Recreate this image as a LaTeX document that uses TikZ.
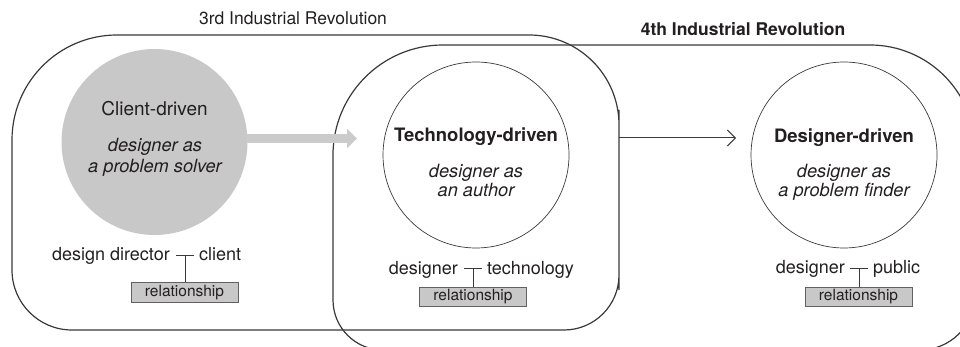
\documentclass[tikz,border=0pt]{standalone}
\usepackage{fontspec}
\setmainfont{TeX Gyre Heros}
\usetikzlibrary{arrows.meta,calc}
\definecolor{ink}{HTML}{231F20}
\definecolor{lineink}{HTML}{3C3839}
\definecolor{fillgray}{HTML}{C8C8C8}
\definecolor{arrowgray}{HTML}{CBCBCB}
\begin{document}
\begin{tikzpicture}[x=1pt,y=-1pt,
  era/.style={draw=lineink, line width=1.2pt},
  stage/.style={circle, draw=lineink, line width=0.7pt, minimum size=186pt, inner sep=0pt},
  title/.style={inner sep=0pt, text=ink, anchor=base, font=\fontsize{19}{21}\selectfont},
  btitle/.style={inner sep=0pt, text=ink, anchor=base, font=\fontsize{18.5}{21}\selectfont\bfseries},
  role/.style={inner sep=0pt, text=ink, anchor=base, font=\fontsize{18.2}{21}\selectfont\itshape},
  party/.style={inner sep=0pt, text=ink, font=\fontsize{18}{21}\selectfont},
  relbox/.style={draw=lineink!80, line width=0.8pt, fill=fillgray, minimum width=107pt, minimum height=19.5pt, inner sep=0pt, text=ink, font=\fontsize{15.5}{17}\selectfont},
  tee/.style={draw=lineink, line width=0.9pt}
]
\useasboundingbox (0,0) rectangle (960,347);
\clip (0,0) rectangle (960,347);

% era frames
\draw[era] (12,200) [rounded corners=105pt] -- (12,35) -- (300,35)
  [rounded corners=90pt] -- (619,35) -- (619,200)
  [rounded corners=55pt] -- (619,330) -- (300,330)
  [rounded corners=60pt] -- (12,330) -- cycle;
\draw[era] (333,200) [rounded corners=110pt] -- (333,45) -- (600,45)
  [rounded corners=105pt] -- (975,45) -- (975,200)
  [rounded corners=55pt] -- (975,350) -- (600,350)
  [rounded corners=50pt] -- (333,350) -- cycle;

\node[inner sep=0pt, text=ink, anchor=base, font=\fontsize{17.5}{20}\selectfont] (h3) at (293,25) {3rd Industrial Revolution};
\node[inner sep=0pt, text=ink, anchor=base, font=\fontsize{17.5}{20}\selectfont\bfseries] (h4) at (743,36) {4th Industrial Revolution};

% stage circles
\node[stage, draw=none, fill=fillgray] (cd) at (154.5,142) {};
\node[stage] (td) at (476,155) {};
\node[stage] (dd) at (844,155) {};

% arrows
\coordinate (ga) at (357,138.5);
\draw[arrowgray, line width=9pt, -{Triangle[length=10pt,width=19pt]}] ([xshift=-2pt]cd.east |- ga) -- (ga);
\coordinate (b1e) at (619,138);
\coordinate (ta) at (736,138);
\draw[lineink, line width=1pt, -{Straight Barb[length=8pt,width=16pt]}] (b1e) -- (ta);

% texts in circles
\node[title] (cdt) at (154.5,116) {Client-driven};
\node[role] (cdr1) at (155,152) {designer as};
\node[role] (cdr2) at (155,173) {a problem solver};

\node[btitle] (tdt) at (476,142) {Technology-driven};
\node[role] (tdr1) at (476,178) {designer as};
\node[role] (tdr2) at (476,197) {an author};

\node[btitle] (ddt) at (844,143) {Designer-driven};
\node[role] (ddr1) at (844,178) {designer as};
\node[role] (ddr2) at (844,197) {a problem finder};

% relationships
\node[party, anchor=base east] (p1a) at (170,260) {design director};
\node[party, anchor=base west] (p1b) at (199,260) {client};
\node[relbox] (r1) at (184.5,292.5) {relationship};
\coordinate (j1) at (185,255);
\draw[tee] ($(j1)+(-9,0)$) -- ($(j1)+(9,0)$);
\draw[tee] (j1) -- (j1 |- r1.north);

\node[party, anchor=base east] (p2a) at (458,274) {designer};
\node[party, anchor=base west] (p2b) at (487,274) {technology};
\node[relbox] (r2) at (473,297) {relationship};
\coordinate (j2) at (473,268);
\draw[tee] ($(j2)+(-9,0)$) -- ($(j2)+(9,0)$);
\draw[tee] (j2) -- (j2 |- r2.north);

\node[party, anchor=base east] (p3a) at (845,273) {designer};
\node[party, anchor=base west] (p3b) at (873,273) {public};
\node[relbox] (r3) at (858.5,297) {relationship};
\coordinate (j3) at (859,268);
\draw[tee] ($(j3)+(-9,0)$) -- ($(j3)+(9,0)$);
\draw[tee] (j3) -- (j3 |- r3.north);
\end{tikzpicture}
\end{document}
